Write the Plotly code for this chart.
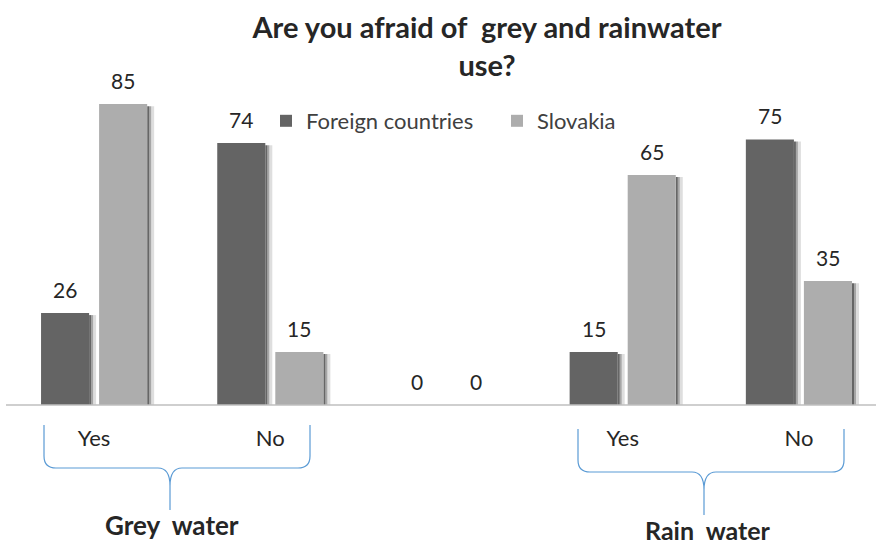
import plotly.graph_objects as go

# Survey answers, per category slot (middle slot is an empty spacer)
categories = ["Yes", "No", "", "Yes", "No"]
foreign = [26, 74, 0, 15, 75]
slovakia = [85, 15, 0, 65, 35]
groups = ["Grey\u00a0 water", "Rain\u00a0 water"]
series_names = ["Foreign countries", "Slovakia"]

W, H = 880, 545
ML, MR, MT, MB = 6, 4, 0, 140
PLOT_W = W - ML - MR
PLOT_H = H - MT - MB
Y_MAX = 114.4
X_RANGE = [-0.5, 4.4375]

C_FOREIGN = "#646464"
C_SLOVAKIA = "#adadad"
TXT = "#262626"
FONT = "Lato"

x = list(range(len(categories)))
BARGAP = 0.341
BARGROUPGAP = 0.172
slot = (1 - BARGAP) / 2
offsets = [-slot / 2, slot / 2]
half_w = slot * (1 - BARGROUPGAP) / 2
px_x = (X_RANGE[1] - X_RANGE[0]) / PLOT_W  # data units per pixel (x)


def paper_pt(px, py):
    return (px - ML) / PLOT_W, (H - MB - py) / PLOT_H


fig = go.Figure()
for name, vals, col in [(series_names[0], foreign, C_FOREIGN),
                        (series_names[1], slovakia, C_SLOVAKIA)]:
    fig.add_trace(go.Bar(x=x, y=vals, name=name, marker_color=col,
                         marker_line_width=0, hoverinfo="x+y"))

shapes = []
annotations = []

# soft drop shadow on the right of each bar + value labels
for k, vals in enumerate([foreign, slovakia]):
    for i, v in enumerate(vals):
        cx = x[i] + offsets[k]
        annotations.append(dict(x=cx, y=v, xref="x", yref="y", text=str(v),
                                showarrow=False, xanchor="center",
                                yanchor="bottom", yshift=9,
                                font=dict(size=21, color=TXT, family=FONT)))
        if v <= 0:
            continue
        right = cx + half_w
        for a, b, alpha in [(0, 2, 0.6), (2, 4, 0.35), (4, 7, 0.13)]:
            shapes.append(dict(type="rect", xref="x", yref="y",
                               x0=right + a * px_x, x1=right + b * px_x,
                               y0=0, y1=max(v - 0.6, 0),
                               fillcolor=f"rgba(0,0,0,{alpha})", line_width=0,
                               layer="below"))

# baseline
shapes.append(dict(type="line", xref="paper", yref="paper", x0=0, x1=1,
                   y0=0, y1=0, line=dict(color="#bfbfbf", width=1.5)))


def brace(x_left, x_right, x_tip, y_top, y_mid, y_tip, r=12):
    pts = {
        "a": paper_pt(x_left, y_top), "b": paper_pt(x_left, y_mid - r),
        "c": paper_pt(x_left, y_mid), "d": paper_pt(x_left + r, y_mid),
        "e": paper_pt(x_tip - r, y_mid), "f": paper_pt(x_tip, y_mid),
        "g": paper_pt(x_tip, y_mid + 18), "h": paper_pt(x_tip, y_tip),
        "i": paper_pt(x_tip + r, y_mid), "j": paper_pt(x_right - r, y_mid),
        "k": paper_pt(x_right, y_mid), "l": paper_pt(x_right, y_mid - r),
        "m": paper_pt(x_right, y_top),
    }
    p = {k: f"{v[0]:.5f},{v[1]:.5f}" for k, v in pts.items()}
    path = (f"M{p['a']} L{p['b']} Q{p['c']} {p['d']} L{p['e']} "
            f"Q{p['f']} {p['g']} L{p['h']} M{p['g']} Q{p['f']} {p['i']} "
            f"L{p['j']} Q{p['k']} {p['l']} L{p['m']}")
    return dict(type="path", xref="paper", yref="paper", path=path,
                line=dict(color="#5b9bd5", width=1.2))


shapes.append(brace(44, 310, 170, 425, 468, 510))
shapes.append(brace(578, 844, 704, 429, 472, 515))

for label, (px, py), size in zip(groups, [(172, 525), (708, 530)], [26, 25]):
    gx, gy = paper_pt(px, py)
    annotations.append(dict(x=gx, y=gy, xref="paper", yref="paper",
                            text=f"<b>{label}</b>", showarrow=False,
                            xanchor="center", yanchor="middle",
                            font=dict(size=size, color=TXT, family=FONT)))

fig.update_layout(
    width=W, height=H,
    margin=dict(l=ML, r=MR, t=MT, b=MB),
    paper_bgcolor="white", plot_bgcolor="white",
    barmode="group", bargap=BARGAP, bargroupgap=BARGROUPGAP,
    title=dict(text="<b>Are you afraid of\u00a0 grey and rainwater<br>use?</b>",
               x=487 / W, xanchor="center", xref="container",
               y=1 - 38 / H, yanchor="top", yref="container",
               font=dict(size=29, color=TXT, family=FONT)),
    legend=dict(orientation="h", x=(266 - ML) / PLOT_W, xanchor="left",
                y=1 - 100 / PLOT_H, yanchor="top", entrywidth=186,
                font=dict(size=22, color="#404040", family=FONT),
                bgcolor="rgba(0,0,0,0)", traceorder="normal"),
    xaxis=dict(range=X_RANGE, tickmode="array", tickvals=x,
               ticktext=categories, showgrid=False, zeroline=False,
               showline=False, ticks="", ticklabelstandoff=18,
               tickfont=dict(size=22, color=TXT, family=FONT),
               fixedrange=True),
    yaxis=dict(range=[0, Y_MAX], visible=False, fixedrange=True),
    shapes=shapes, annotations=annotations,
    showlegend=True,
)

fig.write_html("out.html")
